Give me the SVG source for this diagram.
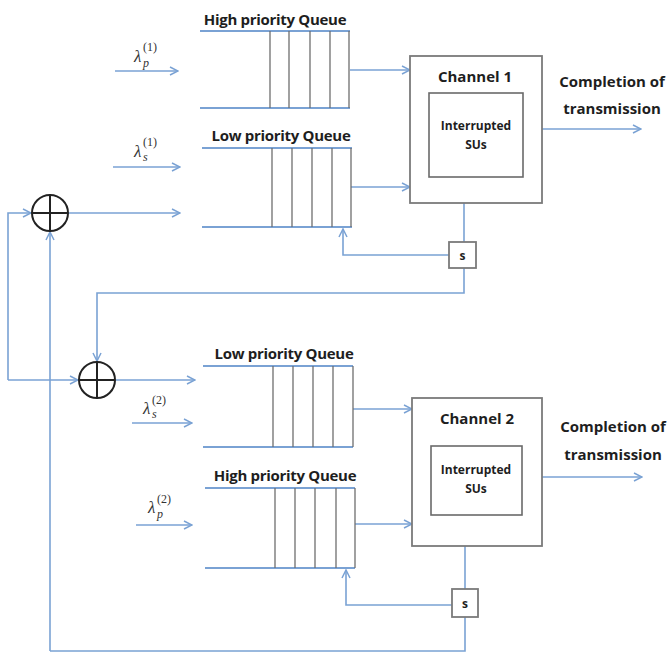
<svg xmlns="http://www.w3.org/2000/svg" width="671" height="656" viewBox="0 0 671 656">
  <defs>
    <marker id="arr" viewBox="0 0 10 10" refX="9" refY="5" markerWidth="10" markerHeight="10" markerUnits="userSpaceOnUse" orient="auto">
      <path d="M1,1 L9,5 L1,9" fill="none" stroke="#7aa2d4" stroke-width="1.5"/>
    </marker>
    <style>
      .ln { fill: none; stroke: #7aa2d4; stroke-width: 1.6; }
      .ar { marker-end: url(#arr); }
      .qrail { stroke: #7aa2d4; stroke-width: 2; }
      .slot { stroke: #6e6e6e; stroke-width: 1.3; }
      .box { fill: #fff; stroke: #7a7a7a; stroke-width: 1.8; }
      .inner { fill: #fff; stroke: #6a6a6a; stroke-width: 1.6; }
      .sum { fill: #fff; stroke: #222; stroke-width: 2; }
      .sumx { stroke: #222; stroke-width: 2; }
      .lbl { font-family: "Open Sans", "Liberation Sans", sans-serif; font-weight: bold; fill: #1e1e1e; }
      .q { font-size: 15px; letter-spacing: -0.3px; }
      .ch { font-size: 15px; }
      .in { font-size: 12px; }
      .out { font-size: 15px; }
      .lam { font-family: "Liberation Serif", "DejaVu Serif", serif; font-style: italic; fill: #333; font-size: 17px; }
      .sub { font-family: "Liberation Serif", "DejaVu Serif", serif; font-style: italic; fill: #333; font-size: 12px; }
      .sup { font-family: "Liberation Serif", "DejaVu Serif", serif; fill: #333; font-size: 12px; }
    </style>
  </defs>

  <!-- connectors -->
  <g id="connectors">
    <!-- arrivals, upper system -->
    <line class="ln ar" x1="115" y1="71" x2="178" y2="71"/>
    <line class="ln ar" x1="113" y1="167" x2="180" y2="167"/>
    <line class="ln ar" x1="68" y1="213" x2="180" y2="213"/>
    <!-- queues to channel 1 -->
    <line class="ln ar" x1="350" y1="70" x2="410" y2="70"/>
    <line class="ln ar" x1="351" y1="187" x2="410" y2="187"/>
    <!-- channel 1 completion -->
    <line class="ln ar" x1="542" y1="129" x2="641" y2="129"/>
    <!-- channel 1 to switch and back -->
    <line class="ln" x1="464" y1="203" x2="464" y2="242"/>
    <polyline class="ln ar" points="449,255 343,255 343,229"/>
    <polyline class="ln ar" points="464,268 464,293 97,293 97,361"/>
    <!-- feedback into first adder -->
    <polyline class="ln ar" points="8,380 8,213 31,213"/>
    <polyline class="ln ar" points="50,651 50,232"/>
    <line class="ln ar" x1="8" y1="380" x2="78" y2="380"/>
    <!-- lower system -->
    <line class="ln ar" x1="116" y1="380" x2="195" y2="380"/>
    <line class="ln ar" x1="132" y1="423" x2="192" y2="423"/>
    <line class="ln ar" x1="136" y1="525" x2="192" y2="525"/>
    <line class="ln ar" x1="353" y1="409" x2="412" y2="409"/>
    <line class="ln ar" x1="355" y1="524" x2="412" y2="524"/>
    <line class="ln ar" x1="542" y1="477" x2="642" y2="477"/>
    <line class="ln" x1="465" y1="546" x2="465" y2="589"/>
    <polyline class="ln ar" points="452,605 346,605 346,570"/>
    <polyline class="ln" points="465,617 465,651 50,651"/>
  </g>

  <!-- arrival rates -->
  <g id="rate-p1">
    <text class="lam" x="134" y="62">λ</text>
    <text class="sub" x="143" y="67">p</text>
    <text class="sup" x="143" y="51">(1)</text>
  </g>
  <g id="rate-s1">
    <text class="lam" x="134" y="157">λ</text>
    <text class="sub" x="143" y="161">s</text>
    <text class="sup" x="143" y="146">(1)</text>
  </g>
  <g id="rate-s2">
    <text class="lam" x="143" y="414">λ</text>
    <text class="sub" x="152" y="418">s</text>
    <text class="sup" x="152" y="404">(2)</text>
  </g>
  <g id="rate-p2">
    <text class="lam" x="148" y="513">λ</text>
    <text class="sub" x="157" y="518">p</text>
    <text class="sup" x="157" y="503">(2)</text>
  </g>

  <!-- adders -->
  <g id="adder-1">
    <circle class="sum" cx="50" cy="213" r="18"/>
    <line class="sumx" x1="32" y1="213" x2="68" y2="213"/>
    <line class="sumx" x1="50" y1="195" x2="50" y2="231"/>
  </g>
  <g id="adder-2">
    <circle class="sum" cx="97" cy="380" r="18"/>
    <line class="sumx" x1="79" y1="380" x2="115" y2="380"/>
    <line class="sumx" x1="97" y1="362" x2="97" y2="398"/>
  </g>

  <!-- channel 1 queues -->
  <g id="queue-high-1">
    <text class="lbl q" x="275" y="25" text-anchor="middle">High priority Queue</text>
    <line class="qrail" x1="200" y1="31" x2="350" y2="31"/>
    <line class="qrail" x1="200" y1="108" x2="350" y2="108"/>
    <line class="slot" x1="270" y1="31" x2="270" y2="108"/>
    <line class="slot" x1="289" y1="31" x2="289" y2="108"/>
    <line class="slot" x1="310" y1="31" x2="310" y2="108"/>
    <line class="slot" x1="330" y1="31" x2="330" y2="108"/>
    <line class="slot" x1="349" y1="31" x2="349" y2="108"/>
  </g>
  <g id="queue-low-1">
    <text class="lbl q" x="281" y="141" text-anchor="middle">Low priority Queue</text>
    <line class="qrail" x1="202" y1="148" x2="352" y2="148"/>
    <line class="qrail" x1="202" y1="227" x2="352" y2="227"/>
    <line class="slot" x1="272" y1="148" x2="272" y2="227"/>
    <line class="slot" x1="292" y1="148" x2="292" y2="227"/>
    <line class="slot" x1="312" y1="148" x2="312" y2="227"/>
    <line class="slot" x1="332" y1="148" x2="332" y2="227"/>
    <line class="slot" x1="351" y1="148" x2="351" y2="227"/>
  </g>

  <!-- channel 1 -->
  <g id="channel-1">
    <rect class="box" x="410" y="56" width="132" height="147"/>
    <text class="lbl ch" x="475" y="82" text-anchor="middle">Channel 1</text>
    <rect class="inner" x="429" y="93" width="94" height="84"/>
    <text class="lbl in" x="476" y="130" text-anchor="middle">Interrupted</text>
    <text class="lbl in" x="476" y="149" text-anchor="middle">SUs</text>
  </g>
  <g id="done-1">
    <text class="lbl out" x="612" y="87" text-anchor="middle">Completion of</text>
    <text class="lbl out" x="612" y="114" text-anchor="middle">transmission</text>
  </g>
  <g id="switch-1">
    <rect class="box" x="449" y="242" width="27" height="26"/>
    <text class="lbl in" x="462.5" y="260" text-anchor="middle">s</text>
  </g>

  <!-- channel 2 queues -->
  <g id="queue-low-2">
    <text class="lbl q" x="284" y="359" text-anchor="middle">Low priority Queue</text>
    <line class="qrail" x1="203" y1="366" x2="353" y2="366"/>
    <line class="qrail" x1="203" y1="447" x2="353" y2="447"/>
    <line class="slot" x1="273" y1="366" x2="273" y2="447"/>
    <line class="slot" x1="293" y1="366" x2="293" y2="447"/>
    <line class="slot" x1="313" y1="366" x2="313" y2="447"/>
    <line class="slot" x1="333" y1="366" x2="333" y2="447"/>
    <line class="slot" x1="353" y1="366" x2="353" y2="447"/>
  </g>
  <g id="queue-high-2">
    <text class="lbl q" x="285" y="481" text-anchor="middle">High priority Queue</text>
    <line class="qrail" x1="205" y1="488" x2="355" y2="488"/>
    <line class="qrail" x1="205" y1="568" x2="355" y2="568"/>
    <line class="slot" x1="275" y1="488" x2="275" y2="568"/>
    <line class="slot" x1="295" y1="488" x2="295" y2="568"/>
    <line class="slot" x1="315" y1="488" x2="315" y2="568"/>
    <line class="slot" x1="336" y1="488" x2="336" y2="568"/>
    <line class="slot" x1="355" y1="488" x2="355" y2="568"/>
  </g>

  <!-- channel 2 -->
  <g id="channel-2">
    <rect class="box" x="412" y="398" width="130" height="148"/>
    <text class="lbl ch" x="477" y="424" text-anchor="middle">Channel 2</text>
    <rect class="inner" x="431" y="446" width="91" height="69"/>
    <text class="lbl in" x="476" y="474" text-anchor="middle">Interrupted</text>
    <text class="lbl in" x="476" y="493" text-anchor="middle">SUs</text>
  </g>
  <g id="done-2">
    <text class="lbl out" x="613" y="432" text-anchor="middle">Completion of</text>
    <text class="lbl out" x="613" y="460" text-anchor="middle">transmission</text>
  </g>
  <g id="switch-2">
    <rect class="box" x="452" y="589" width="26" height="28"/>
    <text class="lbl in" x="465" y="608" text-anchor="middle">s</text>
  </g>
</svg>
